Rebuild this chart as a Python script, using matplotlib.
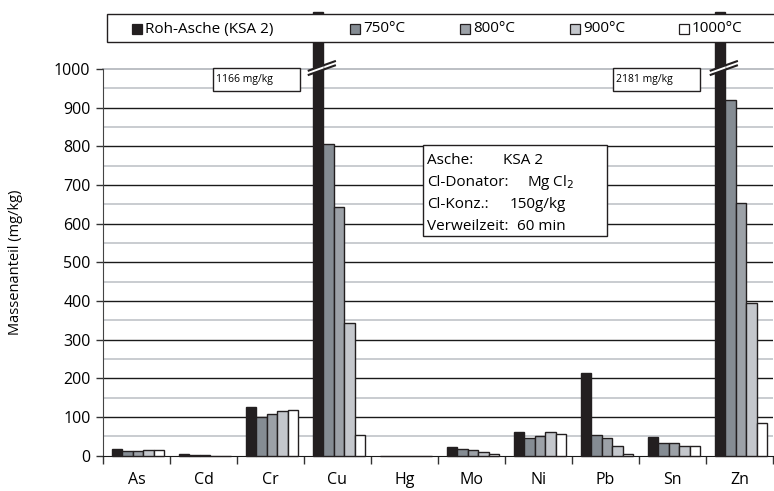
import matplotlib
matplotlib.use("Agg")
import matplotlib.pyplot as plt
from matplotlib.patches import Rectangle, Polygon
import numpy as np

plt.rcParams['font.family'] = ['Open Sans', 'DejaVu Sans']

categories = ["As", "Cd", "Cr", "Cu", "Hg", "Mo", "Ni", "Pb", "Sn", "Zn"]
series_names = ["Roh-Asche (KSA 2)", "750°C", "800°C", "900°C", "1000°C"]
roh_asche = [18, 4, 125, 1166, 0, 22, 61, 214, 47, 2181]
t750 = [11, 1.5, 100, 806, 0, 18, 46, 53, 33, 920]
t800 = [11, 1.5, 107, 642, 0, 15, 50, 46, 33, 653]
t900 = [15, 0, 115, 342, 0, 9.5, 60, 25, 25, 394]
t1000 = [15, 0, 119, 52, 0, 5, 56, 5, 25, 84]
series = [roh_asche, t750, t800, t900, t1000]
colors = ["#231f20", "#858c93", "#9ca1a7", "#c4c7cc", "#ffffff"]
y_ticks = list(range(0, 1001, 100))
info_lines = [("Asche:", "KSA 2"), ("Cl-Donator:", "Mg Cl$_2$"),
              ("Cl-Konz.:", "150g/kg"), ("Verweilzeit:", "60 min")]

W, H = 774, 491
fig = plt.figure(figsize=(W / 100, H / 100), dpi=100)
ax = fig.add_axes([103 / W, (H - 455.5) / H, 670 / W, (455.5 - 69) / H])
ax.set_xlim(-0.5, len(categories) - 0.5)
ax.set_ylim(0, 1000)

# gridlines
for v in range(50, 1000, 100):
    ax.axhline(v, color="#c5c8cd", lw=1.3, zorder=0)
for v in range(100, 1000, 100):
    ax.axhline(v, color="#1a1a1a", lw=1.0, zorder=0.5)
ax.axhline(1000, color="#b0b4ba", lw=1.2, zorder=0.5, clip_on=False)

cap = 1148
bw = 0.157
x = np.arange(len(categories))
for j, (vals, col) in enumerate(zip(series, colors)):
    heights = [min(v, cap) for v in vals]
    ax.bar(x + (j - 2) * bw + 0.02, heights, width=bw, color=col,
           edgecolor="#231f20", linewidth=1.0, zorder=3, clip_on=False)

# break marks on bars exceeding the axis
for i, v in enumerate(roh_asche):
    if v > 1000:
        xc = i - 2 * bw + 0.02
        xl, xr = xc - 0.15, xc + 0.27
        slope = 26 / 0.42
        lo0, up0 = 984, 995
        bl, br = xc - bw / 2 - 0.01, xc + bw / 2 + 0.01
        poly = Polygon([[bl, lo0 + slope * (bl - xl)], [br, lo0 + slope * (br - xl)],
                        [br, up0 + slope * (br - xl)], [bl, up0 + slope * (bl - xl)]],
                       closed=True, facecolor="white", edgecolor="none", zorder=5,
                       clip_on=False)
        ax.add_patch(poly)
        for y0 in (lo0, up0):
            ax.plot([xl, xr], [y0, y0 + slope * (xr - xl)], color="#231f20", lw=1.5,
                    zorder=6, solid_capstyle="butt", clip_on=False)
        bx = i - (1.86 if categories[i] == "Cu" else 1.89)
        ax.add_patch(Rectangle((bx, 944), 1.30, 59, facecolor="white",
                               edgecolor="#231f20", lw=1.0, zorder=7, clip_on=False))
        ax.text(bx + 0.04, 973, f"{v} mg/kg", fontsize=7.5, va="center", ha="left",
                zorder=8)

# axes styling
ax.spines["top"].set_visible(False)
ax.spines["right"].set_visible(False)
ax.spines["left"].set_color("#444444")
ax.spines["bottom"].set_color("#1a1a1a")
ax.set_yticks(y_ticks)
ax.set_yticklabels([str(t) for t in y_ticks], fontsize=11.5)
ax.tick_params(axis="y", length=5, width=1, pad=4, color="#333333")
ax.set_xticks(x)
ax.set_xticklabels(categories, fontsize=11.5)
ax.tick_params(axis="x", length=0, pad=12)
ax.set_xticks(np.arange(-0.5, len(categories)), minor=True)
ax.tick_params(axis="x", which="minor", length=6, width=1, color="#333333")
ax.set_ylabel("Massenanteil (mg/kg)", fontsize=10.5, labelpad=22)

# info box
ax.add_patch(Rectangle(((423 - 103) / 67 - 0.5, (455.5 - 236) / 0.3865), (607 - 423) / 67,
                       91 / 0.3865, facecolor="white", edgecolor="#231f20", lw=1.0,
                       zorder=7))
line_y = [160, 182, 205, 226]
val_x = [503, 527, 510, 517]
for (lab, val), py, vx in zip(info_lines, line_y, val_x):
    ax.text((427 - 103) / 67 - 0.5, (455.5 - py) / 0.3865, lab, fontsize=11,
            va="center", ha="left", zorder=8)
    ax.text((vx - 103) / 67 - 0.5, (455.5 - py) / 0.3865, val, fontsize=11,
            va="center", ha="left", zorder=8)

# legend (custom, figure coordinates)
fig.patches.append(Rectangle((107 / W, 1 - 42 / H), 680 / W, 28 / H,
                             transform=fig.transFigure, facecolor="white",
                             edgecolor="#231f20", lw=1.0, zorder=10))
mark_x = [132, 350, 460, 570, 679]
for name, col, mx in zip(series_names, colors, mark_x):
    fig.patches.append(Rectangle((mx / W, 1 - 34 / H), 10 / W, 10 / H,
                                 transform=fig.transFigure, facecolor=col,
                                 edgecolor="#231f20", lw=0.9, zorder=11))
    fig.text((mx + 13) / W, 1 - 29 / H, name, fontsize=11, va="center", ha="left",
             zorder=12)

fig.savefig("out.png", dpi=100)
